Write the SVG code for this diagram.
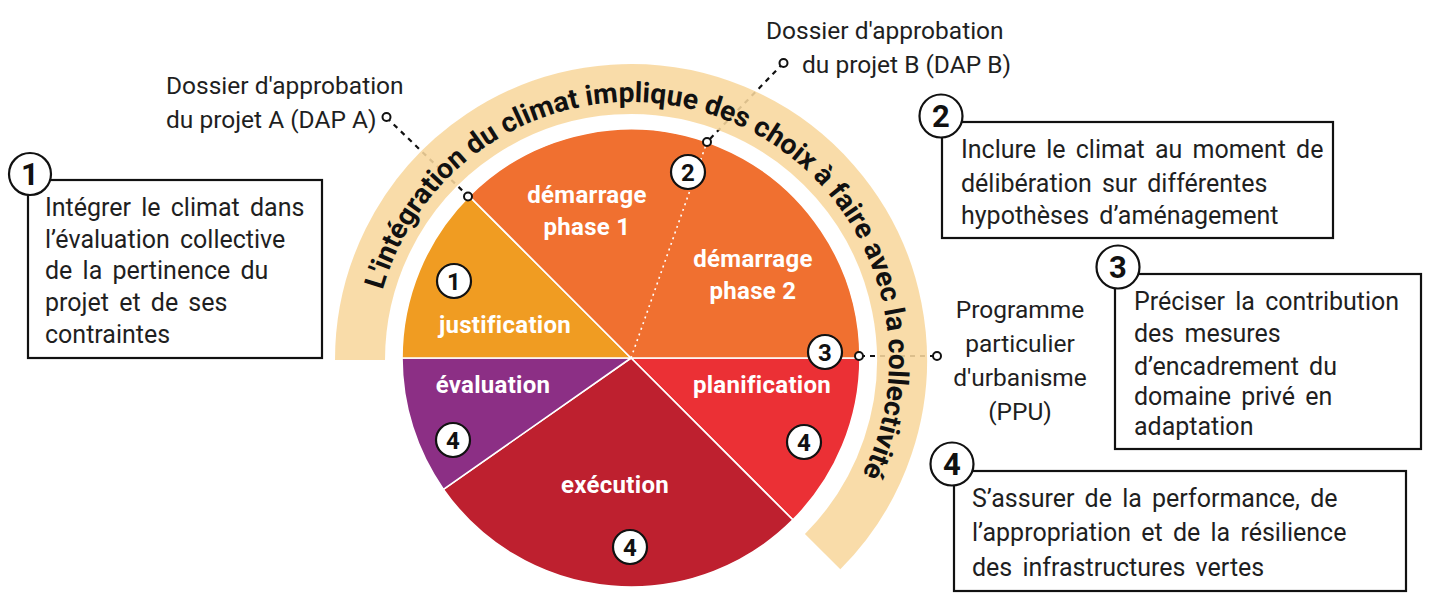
<svg xmlns="http://www.w3.org/2000/svg" xmlns:xlink="http://www.w3.org/1999/xlink" width="1431" height="600" viewBox="0 0 1431 600">
<style>
  .seg { stroke: #ffffff; stroke-width: 1.6; }
  .lbl { font-family: Roboto, "Liberation Sans", sans-serif; font-weight: 700; font-size: 24px; letter-spacing: 0.3px; fill: #ffffff; text-anchor: middle; }
  .num { fill: #ffffff; stroke: #111111; stroke-width: 2.2; }
  .numt { font-family: Roboto, "Liberation Sans", sans-serif; font-weight: 700; font-size: 24px; fill: #111111; text-anchor: middle; }
  .big { font-size: 31px; }
  .box { fill: #ffffff; stroke: #111111; stroke-width: 2.2; }
  .bt { font-family: Roboto, "Liberation Sans", sans-serif; font-size: 25px; word-spacing: 4px; fill: #1f1f1f; }
  .note { font-family: Roboto, "Liberation Sans", sans-serif; font-size: 24.5px; fill: #1f1f1f; }
  .dash { fill: none; stroke: #111111; stroke-width: 2.2; stroke-dasharray: 5 5; }
  .dot { fill: #ffffff; stroke: #111111; stroke-width: 2; }
  .arct { font-family: Roboto, "Liberation Sans", sans-serif; font-weight: 700; font-size: 28px; fill: #111111; }
</style>
<defs>
  <path id="arcPath" d="M373.16,369 A258,258 0 1 1 816.59,539.22"/>
</defs>

<g id="connectors">
  <path class="dash" d="M386.5,117.5 L468,196"/>
  <path class="dash" d="M783,63.5 L707,142"/>
  <path class="dash" d="M860,356 L937,356"/>
</g>

<g id="band">
  <path d="M360,360 A271,271 0 1 1 822.63,551.63" fill="none" stroke="#F8D79D" stroke-opacity="0.88" stroke-width="50"/>
  <text class="arct"><textPath xlink:href="#arcPath" href="#arcPath" startOffset="50%" text-anchor="middle" textLength="858" lengthAdjust="spacingAndGlyphs">L'intégration du climat implique des choix à faire avec la collectivité</textPath></text>
</g>

<g id="pie">
  <g id="seg-planification"><path class="seg" fill="#EB3035" d="M631,358 L860,358 A229,229 0 0 1 792.93,519.93 Z"/>
    <text class="lbl" x="762" y="393">planification</text></g>
  <g id="seg-execution"><path class="seg" fill="#BE202F" d="M631,358 L792.93,519.93 A229,229 0 0 1 443.41,489.35 Z"/>
    <text class="lbl" x="615" y="493">exécution</text></g>
  <g id="seg-evaluation"><path class="seg" fill="#8C2F85" d="M631,358 L443.41,489.35 A229,229 0 0 1 402,358 Z"/>
    <text class="lbl" x="493" y="393">évaluation</text></g>
  <g id="seg-justification"><path class="seg" fill="#F09C22" d="M631,358 L402,358 A229,229 0 0 1 469.07,196.07 Z"/>
    <text class="lbl" x="505" y="333">justification</text></g>
  <g id="seg-demarrage"><path class="seg" fill="#F07030" d="M631,358 L469.07,196.07 A229,229 0 0 1 860,358 Z"/>
    <path d="M631,358 L707,142" fill="none" stroke="#ffffff" stroke-width="1.6" stroke-dasharray="2 4"/>
    <text class="lbl" x="587" y="203">démarrage</text>
    <text class="lbl" x="587" y="235">phase 1</text>
    <text class="lbl" x="753" y="267">démarrage</text>
    <text class="lbl" x="753" y="299">phase 2</text></g>
</g>

<g id="pie-markers">
  <circle class="dot" cx="468" cy="196.5" r="4"/>
  <circle class="dot" cx="707" cy="142" r="4"/>
  <circle class="dot" cx="859" cy="356" r="4"/>
  <circle class="dot" cx="386.5" cy="117" r="4"/>
  <circle class="dot" cx="783.5" cy="63" r="4"/>
  <circle class="dot" cx="937" cy="356" r="4"/>
  <g id="n-pie-1"><circle class="num" cx="454" cy="281" r="17"/><text class="numt" x="454" y="290">1</text></g>
  <g id="n-pie-2"><circle class="num" cx="688" cy="172" r="17"/><text class="numt" x="688" y="181">2</text></g>
  <g id="n-pie-3"><circle class="num" cx="825" cy="352" r="17"/><text class="numt" x="825" y="361">3</text></g>
  <g id="n-pie-4a"><circle class="num" cx="453" cy="440" r="17"/><text class="numt" x="453" y="449">4</text></g>
  <g id="n-pie-4b"><circle class="num" cx="804" cy="442" r="17"/><text class="numt" x="804" y="451">4</text></g>
  <g id="n-pie-4c"><circle class="num" cx="630" cy="547" r="17"/><text class="numt" x="630" y="556">4</text></g>
</g>

<g id="label-dap-a">
  <text class="note" x="166" y="94">Dossier d'approbation</text>
  <text class="note" x="166" y="128">du projet A (DAP A)</text>
</g>
<g id="label-dap-b">
  <text class="note" x="766" y="39">Dossier d'approbation</text>
  <text class="note" x="802" y="73">du projet B (DAP B)</text>
</g>
<g id="label-ppu">
  <text class="note" x="1020" y="318" text-anchor="middle">Programme</text>
  <text class="note" x="1020" y="352" text-anchor="middle">particulier</text>
  <text class="note" x="1020" y="386" text-anchor="middle">d'urbanisme</text>
  <text class="note" x="1020" y="420" text-anchor="middle">(PPU)</text>
</g>

<g id="callout-1">
  <rect class="box" x="28" y="180" width="294" height="178"/>
  <circle class="num" cx="30" cy="174" r="21"/><text class="numt big" x="30" y="185">1</text>
  <text class="bt" x="45" y="216">Intégrer le climat dans</text>
  <text class="bt" x="45" y="248">l’évaluation collective</text>
  <text class="bt" x="45" y="279">de la pertinence du</text>
  <text class="bt" x="45" y="311">projet et de ses</text>
  <text class="bt" x="45" y="343">contraintes</text>
</g>

<g id="callout-2">
  <rect class="box" x="942" y="122" width="391" height="116"/>
  <circle class="num" cx="941" cy="116" r="21.5"/><text class="numt big" x="941" y="127">2</text>
  <text class="bt" x="961" y="158">Inclure le climat au moment de</text>
  <text class="bt" x="961" y="192">délibération sur différentes</text>
  <text class="bt" x="961" y="224">hypothèses d’aménagement</text>
</g>

<g id="callout-3">
  <rect class="box" x="1115" y="274" width="306" height="175"/>
  <circle class="num" cx="1118" cy="267" r="21.5"/><text class="numt big" x="1118" y="278">3</text>
  <text class="bt" x="1134" y="310">Préciser la contribution</text>
  <text class="bt" x="1134" y="342">des mesures</text>
  <text class="bt" x="1134" y="375">d’encadrement du</text>
  <text class="bt" x="1134" y="405">domaine privé en</text>
  <text class="bt" x="1134" y="435">adaptation</text>
</g>

<g id="callout-4">
  <rect class="box" x="954" y="471" width="452" height="120"/>
  <circle class="num" cx="952" cy="464" r="21.5"/><text class="numt big" x="952" y="475">4</text>
  <text class="bt" x="972" y="507">S’assurer de la performance, de</text>
  <text class="bt" x="972" y="541">l’appropriation et de la résilience</text>
  <text class="bt" x="972" y="576">des infrastructures vertes</text>
</g>
</svg>
